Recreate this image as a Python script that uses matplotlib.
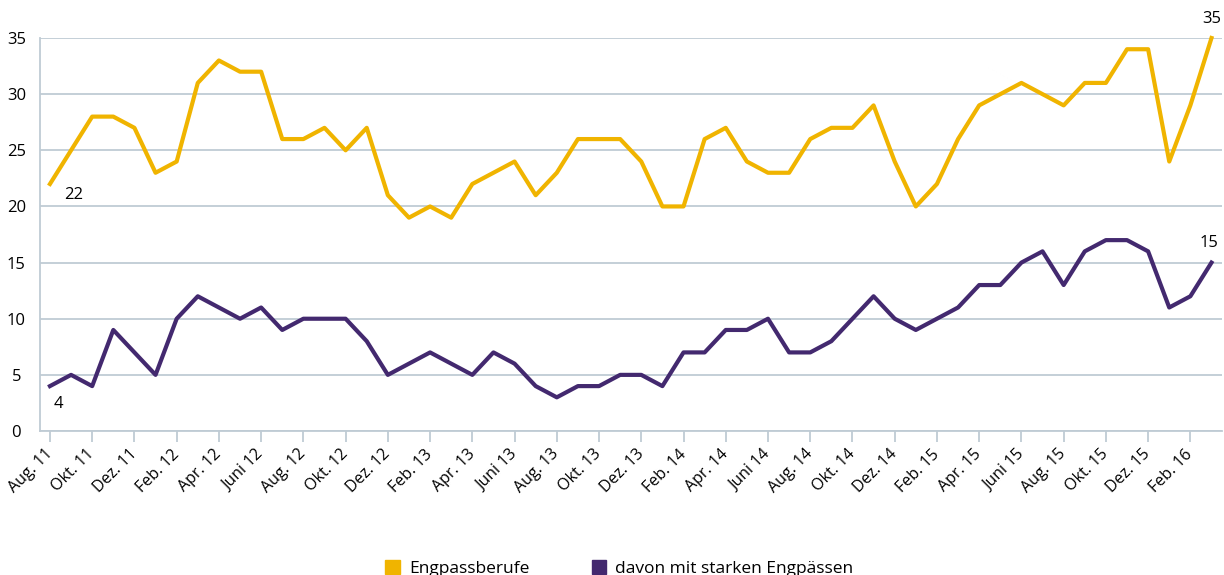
import numpy as np
import matplotlib
matplotlib.use("Agg")
import matplotlib.pyplot as plt
from matplotlib.patches import Patch

# monthly values Aug. 11 - Mär. 16
engpass = [22, 25, 28, 28, 27, 23, 24, 31, 33, 32, 32, 26, 26, 27, 25, 27,
           21, 19, 20, 19, 22, 23, 24, 21, 23, 26, 26, 26, 24, 20, 20, 26,
           27, 24, 23, 23, 26, 27, 27, 29, 24, 20, 22, 26, 29, 30, 31, 30,
           29, 31, 31, 34, 34, 24, 29, 35]
stark = [4, 5, 4, 9, 7, 5, 10, 12, 11, 10, 11, 9, 10, 10, 10, 8,
         5, 6, 7, 6, 5, 7, 6, 4, 3, 4, 4, 5, 5, 4, 7, 7,
         9, 9, 10, 7, 7, 8, 10, 12, 10, 9, 10, 11, 13, 13, 15, 16,
         13, 16, 17, 17, 16, 11, 12, 15]
tick_labels = ["Aug. 11", "Okt. 11", "Dez. 11", "Feb. 12", "Apr. 12", "Juni 12",
               "Aug. 12", "Okt. 12", "Dez. 12", "Feb. 13", "Apr. 13", "Juni 13",
               "Aug. 13", "Okt. 13", "Dez. 13", "Feb. 14", "Apr. 14", "Juni 14",
               "Aug. 14", "Okt. 14", "Dez. 14", "Feb. 15", "Apr. 15", "Juni 15",
               "Aug. 15", "Okt. 15", "Dez. 15", "Feb. 16"]
series_names = ["Engpassberufe", "davon mit starken Engpässen"]

yellow = "#F0B400"
purple = "#43296F"
grid_col = "#BFCBD4"

plt.rcParams["font.family"] = ["Open Sans", "DejaVu Sans"]

fig = plt.figure(figsize=(12.24, 5.75), dpi=100)
ax = fig.add_axes([0.0327, 0.2504, 0.9657, 0.6835])

x = np.arange(len(engpass))
ax.plot(x, engpass, color=yellow, lw=3, clip_on=False, zorder=3)
ax.plot(x, stark, color=purple, lw=3, clip_on=False, zorder=3)

ax.set_xlim(-0.47, 55.5)
ax.set_ylim(0, 35)
ax.set_yticks(range(0, 36, 5))
ax.grid(axis="y", color=grid_col, lw=1.3)
ax.set_axisbelow(True)

for s in ["top", "right"]:
    ax.spines[s].set_visible(False)
for s in ["left", "bottom"]:
    ax.spines[s].set_color(grid_col)
    ax.spines[s].set_linewidth(1.3)

ax.set_xticks(x[::2])
ax.set_xticklabels(tick_labels, rotation=45, ha="right", va="center",
                   rotation_mode="anchor", fontsize=11.5)
ax.tick_params(axis="x", length=8, width=1.3, color=grid_col, pad=7)
ax.tick_params(axis="y", length=0, pad=17, labelsize=12)
for lab in ax.get_yticklabels():
    lab.set_horizontalalignment("center")

# value labels at start and end
ax.annotate(str(engpass[0]), (x[0], engpass[0]), xytext=(10, -8),
            textcoords="offset points", fontsize=12, va="center")
ax.annotate(str(stark[0]), (x[0], stark[0]), xytext=(3, -13),
            textcoords="offset points", fontsize=12, va="center")
ax.annotate(str(engpass[-1]), (x[-1], engpass[-1]), xytext=(0, 14),
            textcoords="offset points", fontsize=12, ha="center", va="center")
ax.annotate(str(stark[-1]), (x[-1], stark[-1]), xytext=(-2, 14),
            textcoords="offset points", fontsize=12, ha="center", va="center")

handles = [Patch(color=yellow), Patch(color=purple)]
fig.legend(handles, series_names, loc="lower center", bbox_to_anchor=(0.506, -0.03),
           ncol=2, frameon=False, fontsize=12.5, handlelength=0.85, handleheight=0.85,
           handletextpad=0.5, columnspacing=3.6)

fig.savefig("out.png", dpi=100)
